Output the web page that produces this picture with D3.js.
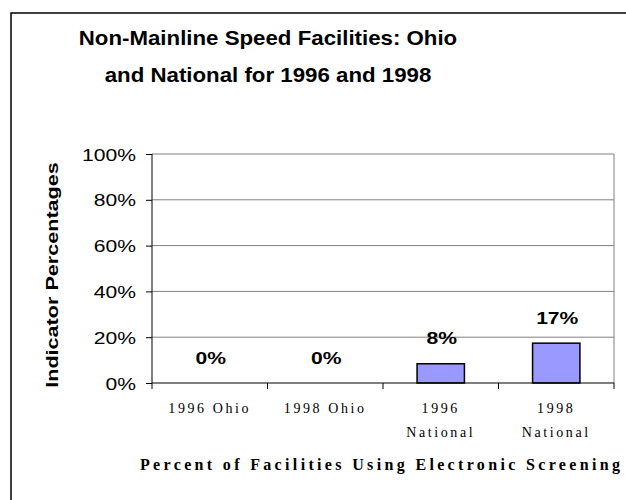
<!DOCTYPE html>
<head>
  <meta charset="UTF-8">
  <script src="https://d3js.org/d3.v7.min.js"></script>
  <style>
    body { margin: 0; background: #fff; }
  </style>
</head>
<body>
  <script>
    // chart data
    var categories = ["1996 Ohio", "1998 Ohio", "1996 National", "1998 National"];
    var catLines = [["1996 Ohio"], ["1998 Ohio"], ["1996", "National"], ["1998", "National"]];
    var values = [0, 0, 8.4, 17.4];
    var yTicks = [0, 20, 40, 60, 80, 100];

    var width = 626, height = 500;
    var svg = d3.select("body").append("svg")
      .attr("width", width)
      .attr("height", height);

    // the original's sans text is drawn a bit wide; stretch it the same way
    function widen(sel, k) {
      sel.each(function() {
        var w = this.getComputedTextLength();
        d3.select(this)
          .attr("textLength", w * k)
          .attr("lengthAdjust", "spacingAndGlyphs");
      });
    }

    // outer frame (runs off the right and bottom edge)
    svg.append("rect")
      .attr("x", 11).attr("y", 13)
      .attr("width", 700).attr("height", 600)
      .attr("fill", "#fff")
      .attr("stroke", "#000")
      .attr("stroke-width", 1.5);

    var plotLeft = 152, plotRight = 614, plotTop = 154, plotBottom = 383;

    var x = d3.scaleBand()
      .domain(categories)
      .range([plotLeft, plotRight])
      .paddingInner(0.59)
      .paddingOuter(0.295);

    var y = d3.scaleLinear()
      .domain([0, 100])
      .range([plotBottom, plotTop]);

    // gridlines
    svg.append("g").selectAll("line")
      .data(yTicks.slice(1))
      .enter().append("line")
      .attr("x1", plotLeft).attr("x2", plotRight)
      .attr("y1", function(d) { return y(d); })
      .attr("y2", function(d) { return y(d); })
      .attr("stroke", "#808080")
      .attr("stroke-width", 1);

    // plot border right side
    svg.append("line")
      .attr("x1", plotRight).attr("x2", plotRight)
      .attr("y1", plotTop).attr("y2", plotBottom)
      .attr("stroke", "#808080");

    // bars
    svg.append("g").selectAll("rect")
      .data(values)
      .enter().append("rect")
      .attr("x", function(d, i) { return x(categories[i]); })
      .attr("y", function(d) { return y(d); })
      .attr("width", x.bandwidth())
      .attr("height", function(d) { return plotBottom - y(d); })
      .attr("fill", "#9999ff")
      .attr("stroke", "#000")
      .attr("stroke-width", 1.5)
      .style("display", function(d) { return d > 0 ? null : "none"; });

    // y axis
    var yAxis = svg.append("g")
      .attr("transform", "translate(" + plotLeft + ",0)")
      .call(d3.axisLeft(y).tickValues(yTicks).tickSize(6).tickPadding(10)
        .tickFormat(function(d) { return d + "%"; }));
    yAxis.select(".domain").attr("stroke", "#000").attr("d", "M0," + plotTop + "V" + plotBottom);
    yAxis.selectAll("text")
      .attr("font-family", "Liberation Sans, Arial, sans-serif")
      .attr("font-size", 17)
      .attr("fill", "#000")
      .attr("dy", "0.36em")
      .call(widen, 1.24);

    // x axis
    var xTickPos = d3.range(categories.length + 1).map(function(i) {
      return plotLeft + i * (plotRight - plotLeft) / categories.length;
    });
    svg.append("line")
      .attr("x1", plotLeft).attr("x2", plotRight)
      .attr("y1", plotBottom).attr("y2", plotBottom)
      .attr("stroke", "#000");
    svg.append("g").selectAll("line")
      .data(xTickPos)
      .enter().append("line")
      .attr("x1", function(d) { return d; })
      .attr("x2", function(d) { return d; })
      .attr("y1", plotBottom).attr("y2", plotBottom + 6)
      .attr("stroke", "#000");

    var xl = svg.append("g").selectAll("text")
      .data(catLines)
      .enter().append("text")
      .attr("x", function(d, i) { return x(categories[i]) + x.bandwidth() / 2; })
      .attr("y", 413)
      .attr("text-anchor", "middle")
      .attr("font-family", "Liberation Serif, Times New Roman, serif")
      .attr("font-size", 14)
      .attr("letter-spacing", 2.6);
    xl.selectAll("tspan")
      .data(function(d) { return d; })
      .enter().append("tspan")
      .attr("x", function() { return d3.select(this.parentNode).attr("x"); })
      .attr("dy", function(d, i) { return i === 0 ? 0 : 24; })
      .text(function(d) { return d; });

    // value labels
    svg.append("g").selectAll("text")
      .data(values)
      .enter().append("text")
      .attr("x", function(d, i) { return x(categories[i]) + x.bandwidth() / 2 + 1; })
      .attr("y", function(d) { return y(d) - 19.5; })
      .attr("text-anchor", "middle")
      .attr("font-family", "Liberation Sans, Arial, sans-serif")
      .attr("font-weight", "bold")
      .attr("font-size", 17)
      .text(function(d) { return Math.round(d) + "%"; })
      .call(widen, 1.24);

    // title
    var title = svg.append("text")
      .attr("text-anchor", "middle")
      .attr("font-family", "Liberation Sans, Arial, sans-serif")
      .attr("font-weight", "bold")
      .attr("font-size", 21);
    title.append("tspan").attr("x", 268).attr("y", 45)
      .text("Non-Mainline Speed Facilities: Ohio");
    title.append("tspan").attr("x", 268).attr("y", 82)
      .text("and National for 1996 and 1998");
    title.selectAll("tspan").call(widen, 1.06);

    // y axis title
    svg.append("text")
      .attr("transform", "translate(58,275) rotate(-90)")
      .attr("text-anchor", "middle")
      .attr("font-family", "Liberation Sans, Arial, sans-serif")
      .attr("font-weight", "bold")
      .attr("font-size", 17)
      .text("Indicator Percentages")
      .call(widen, 1.27);

    // x axis title
    svg.append("text")
      .attr("x", 140)
      .attr("y", 470)
      .attr("font-family", "Liberation Serif, Times New Roman, serif")
      .attr("font-weight", "bold")
      .attr("font-size", 16)
      .attr("textLength", 480)
      .attr("lengthAdjust", "spacing")
      .text("Percent of Facilities Using Electronic Screening");
  </script>
</body>
</html>
